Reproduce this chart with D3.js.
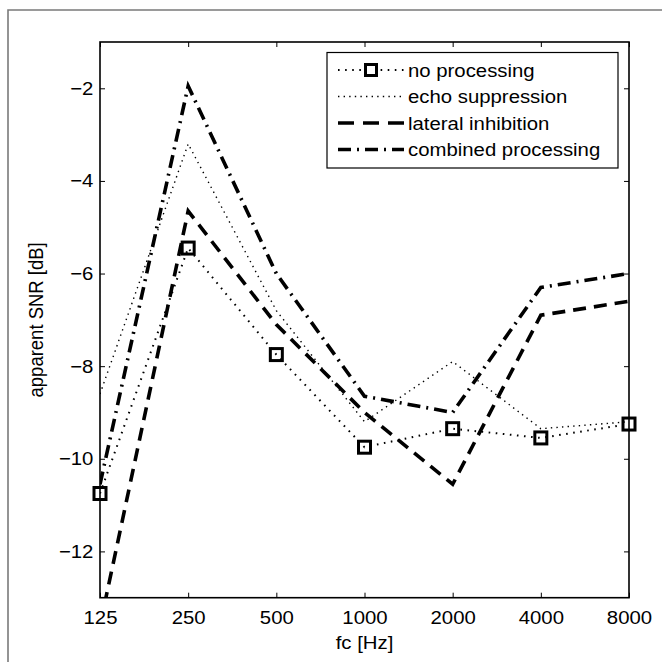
<!DOCTYPE html>
<html>
<head>
<meta charset="utf-8">
<script src="https://cdn.jsdelivr.net/npm/d3@7"></script>
<style>
  body { margin: 0; background: #fff; }
  text { font-family: "Liberation Sans", Arial, Helvetica, sans-serif; }
</style>
</head>
<body>
<div id="chart"></div>
<script>
// data
const freqs = [125, 250, 500, 1000, 2000, 4000, 8000];
const noProcessing = [-10.75, -5.45, -7.75, -9.75, -9.35, -9.55, -9.25];
const echoSuppression = [-8.6, -3.2, -6.8, -9.2, -7.9, -9.35, -9.2];
const lateralInhibition = [-13.6, -4.65, -7.1, -9.0, -10.55, -6.9, -6.6];
const combinedProcessing = [-10.55, -1.95, -6.0, -8.65, -9.0, -6.3, -6.0];
const yTicks = [-12, -10, -8, -6, -4, -2];
const seriesNames = ["no processing", "echo suppression", "lateral inhibition", "combined processing"];

const w = 662, h = 662;
const axL = 100, axR = 629, axT = 42, axB = 597.7;
const fs = 18.5;
const stretch = "scale(1.1,1)";

const xScale = d3.scaleLog().base(2).domain([125, 8000]).range([axL, axR]);
const yScale = d3.scaleLinear().domain([-13, -1]).range([axB, axT]);

const svg = d3.select("#chart").append("svg")
  .attr("width", w).attr("height", h);

// outer figure frame
svg.append("path")
  .attr("d", `M8,${h + 5}V10H${w + 5}`)
  .attr("fill", "none").attr("stroke", "#7a7a7a").attr("stroke-width", 1.6);

svg.append("clipPath").attr("id", "clip")
  .append("rect").attr("x", axL).attr("y", axT)
  .attr("width", axR - axL).attr("height", axB - axT);

const fmtY = d => d3.format("d")(d).replace("-", "\u2212");

const xAxis = d3.axisBottom(xScale).tickValues(freqs).tickFormat(d3.format("d"))
  .tickSizeInner(-5).tickSizeOuter(0).tickPadding(13);
const yAxis = d3.axisLeft(yScale).tickValues(yTicks).tickFormat(fmtY)
  .tickSizeInner(-5).tickSizeOuter(0).tickPadding(6);

const gx = svg.append("g").attr("transform", `translate(0,${axB})`).call(xAxis);
const gy = svg.append("g").attr("transform", `translate(${axL},0)`).call(yAxis);
svg.append("g").attr("transform", `translate(0,${axT})`)
  .call(d3.axisTop(xScale).tickValues(freqs).tickFormat("").tickSizeInner(-5).tickSizeOuter(0));
svg.append("g").attr("transform", `translate(${axR},0)`)
  .call(d3.axisRight(yScale).tickValues(yTicks).tickFormat("").tickSizeInner(-5).tickSizeOuter(0));

svg.selectAll(".domain").remove();
svg.selectAll(".tick line").attr("stroke", "#000").attr("stroke-width", 1);
[gx, gy].forEach(g => g.selectAll("text")
  .attr("fill", "#000").style("font-size", fs + "px")
  .attr("transform", stretch));

// lines
const line = d3.line().x(d => xScale(d[0])).y(d => yScale(d[1]));
const plot = svg.append("g").attr("clip-path", "url(#clip)");

const styles = [
  {vals: noProcessing, width: 2, dash: "1.6,5.5"},
  {vals: echoSuppression, width: 1.4, dash: "1.4,4.2"},
  {vals: lateralInhibition, width: 3.6, dash: "13,8"},
  {vals: combinedProcessing, width: 3.6, dash: "13,6,2,6"}
];

styles.forEach(s => {
  plot.append("path")
    .datum(freqs.map((f, i) => [f, s.vals[i]]))
    .attr("d", line)
    .attr("fill", "none")
    .attr("stroke", "#000")
    .attr("stroke-width", s.width)
    .attr("stroke-dasharray", s.dash);
});

svg.append("g").selectAll("rect.marker")
  .data(freqs.map((f, i) => [f, noProcessing[i]]))
  .enter().append("rect")
  .attr("class", "marker")
  .attr("x", d => xScale(d[0]) - 6)
  .attr("y", d => yScale(d[1]) - 6)
  .attr("width", 12).attr("height", 12)
  .attr("fill", "none").attr("stroke", "#000").attr("stroke-width", 3);

// axes box
svg.append("rect")
  .attr("x", axL).attr("y", axT)
  .attr("width", axR - axL).attr("height", axB - axT)
  .attr("fill", "none").attr("stroke", "#000").attr("stroke-width", 1.6);

// axis titles
svg.append("text")
  .attr("transform", `translate(${(axL + axR) / 2},648.5) ${stretch}`)
  .attr("text-anchor", "middle").style("font-size", fs + "px")
  .text("fc [Hz]");

svg.append("text")
  .attr("transform", `translate(43,${(axT + axB) / 2}) rotate(-90) scale(1,1.1)`)
  .attr("text-anchor", "middle").style("font-size", fs + "px")
  .text("apparent SNR [dB]");

// legend
const lg = svg.append("g");
lg.append("rect")
  .attr("x", 327).attr("y", 52.5).attr("width", 291).attr("height", 115.5)
  .attr("fill", "#fff").attr("stroke", "#000").attr("stroke-width", 1.2);

seriesNames.forEach((name, i) => {
  const y = 70 + i * 26.5;
  const s = styles[i];
  lg.append("line")
    .attr("x1", 338).attr("x2", 404).attr("y1", y).attr("y2", y)
    .attr("stroke", "#000").attr("stroke-width", s.width)
    .attr("stroke-dasharray", i === 2 ? "16,9" : s.dash);
  if (i === 0) {
    lg.append("rect")
      .attr("x", 371 - 5.5).attr("y", y - 5.5).attr("width", 11).attr("height", 11)
      .attr("fill", "#fff").attr("stroke", "#000").attr("stroke-width", 3);
  }
  lg.append("text")
    .attr("transform", `translate(408,${y + 6.5}) ${stretch}`)
    .style("font-size", fs + "px")
    .text(name);
});
</script>
</body>
</html>
